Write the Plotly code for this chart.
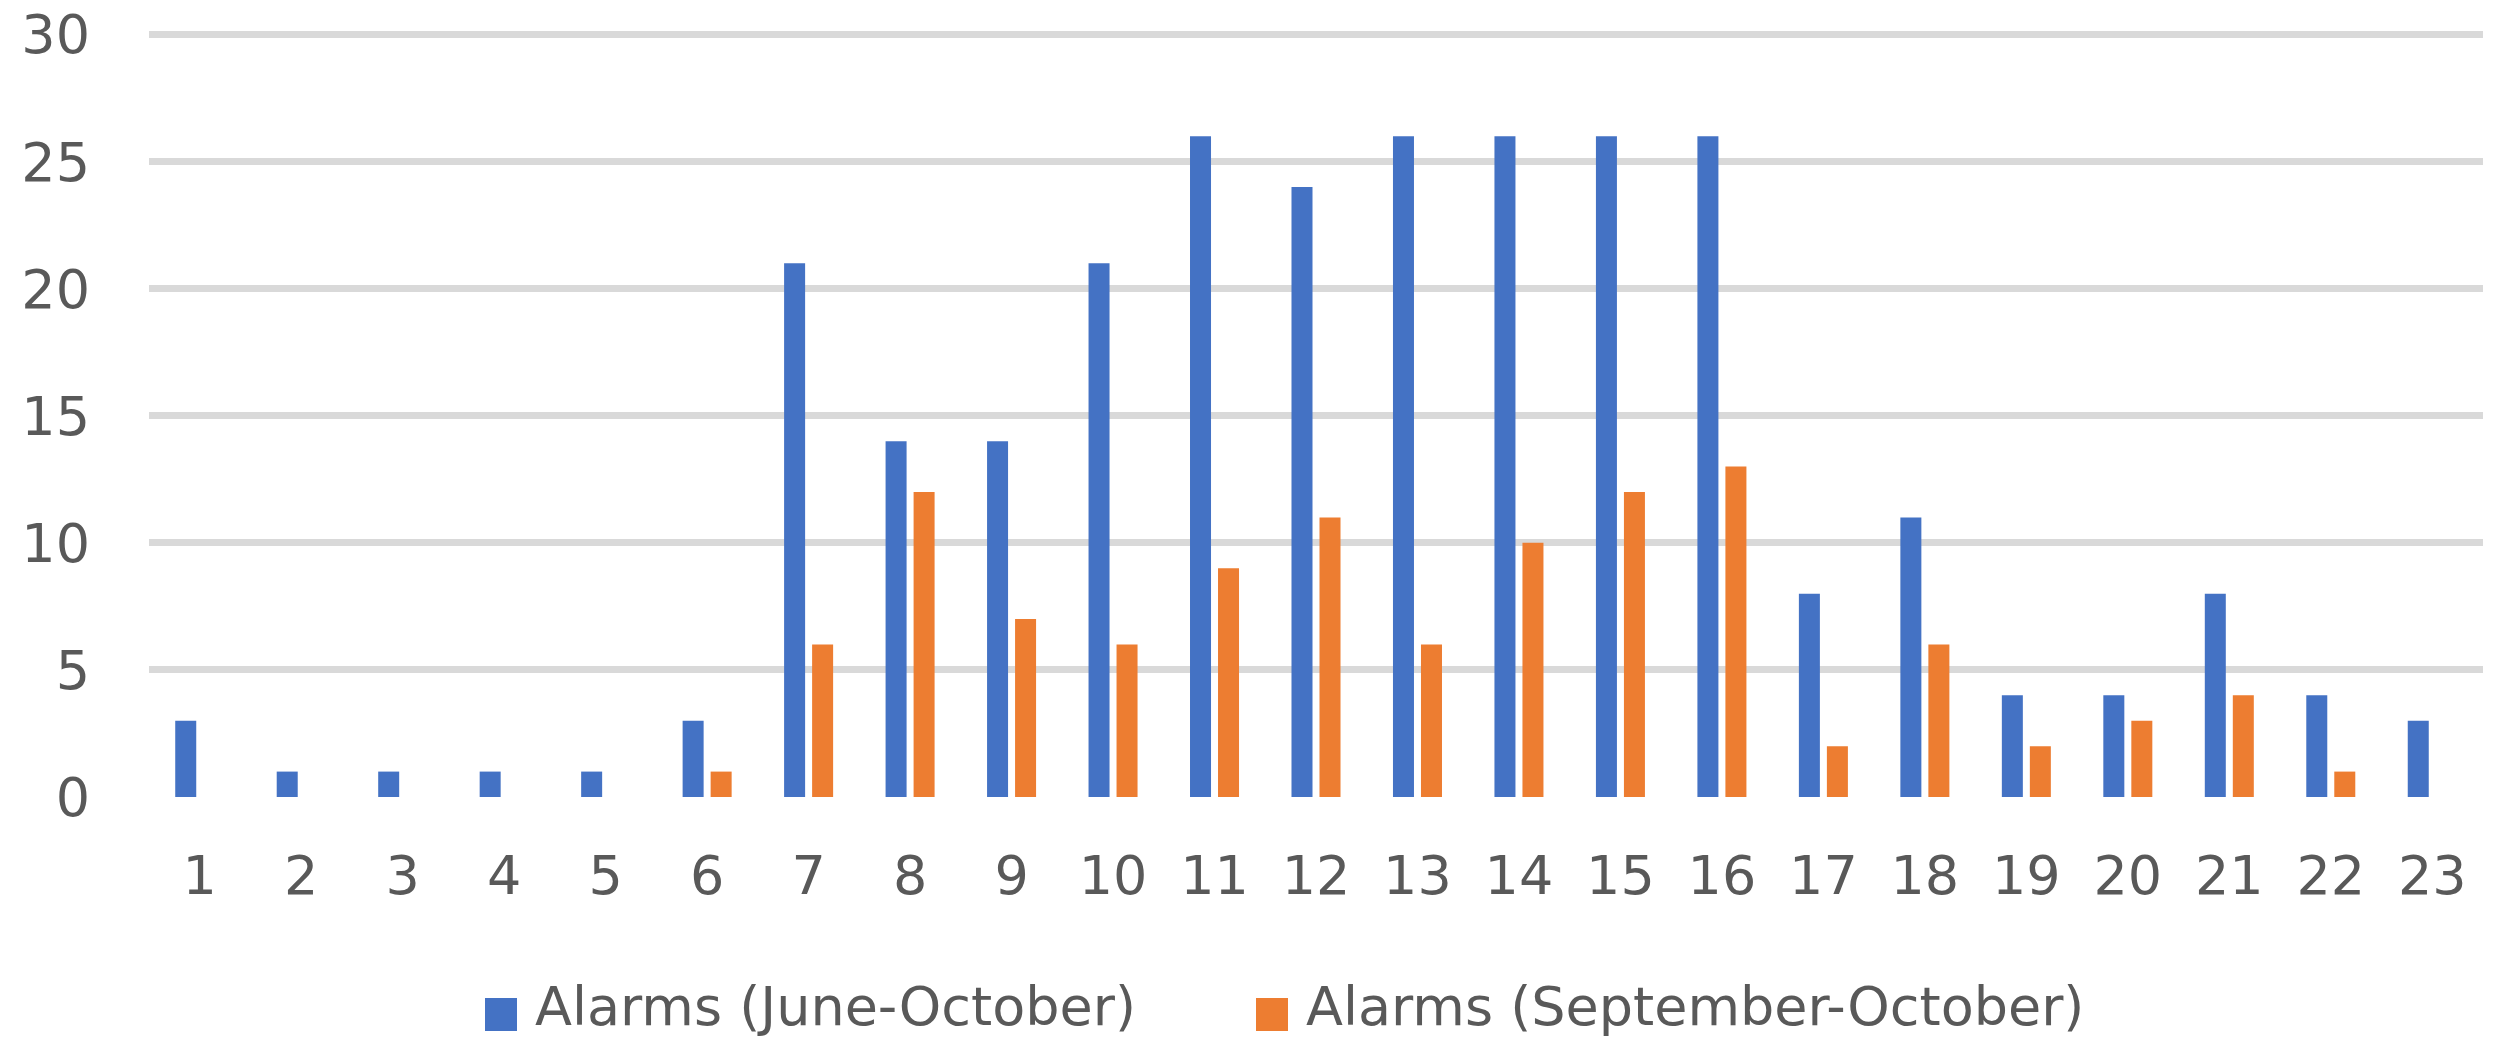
import plotly.graph_objects as go

categories = [str(i) for i in range(1, 24)]
june_october = [3, 1, 1, 1, 1, 3, 21, 14, 14, 21, 26, 24, 26, 26, 26, 26, 8, 11, 4, 4, 8, 4, 3]
september_october = [0, 0, 0, 0, 0, 1, 6, 12, 7, 6, 9, 11, 6, 10, 12, 13, 2, 6, 2, 3, 4, 1, 0]
series_names = ["Alarms (June-October)", "Alarms (September-October)"]
colors = ["#4472C4", "#ED7D31"]
y_ticks = [0, 5, 10, 15, 20, 25, 30]

FONT = "DejaVu Sans, Open Sans, sans-serif"
TXT = "#595959"
FS = 54

fig = go.Figure()
fig.add_trace(go.Bar(x=categories, y=june_october, name=series_names[0],
                     marker=dict(color=colors[0], line=dict(width=0)), showlegend=False))
fig.add_trace(go.Bar(x=categories, y=september_october, name=series_names[1],
                     marker=dict(color=colors[1], line=dict(width=0)), showlegend=False))

# plot area in pixels: x 149..2483, y 30..797 (range 0..30.18)
YMAX = 30.18
L, R, T, B = 149, 2483, 30, 797
W, H = R - L, B - T
def px(x):
    return (x - L) / W
def py(y):
    return (B - y) / H

shapes = []
annotations = []
legend_items = [(485, 533), (1256, 1304)]
for (sx, tx), name, col in zip(legend_items, series_names, colors):
    shapes.append(dict(type="rect", xref="paper", yref="paper",
                       x0=px(sx), x1=px(sx + 32), y0=py(1031), y1=py(998),
                       fillcolor=col, line=dict(width=0)))
    annotations.append(dict(text=name, xref="paper", yref="paper",
                            x=px(tx), y=py(1006), xanchor="left", yanchor="middle",
                            showarrow=False, font=dict(family=FONT, size=FS, color=TXT)))

fig.update_layout(
    width=2494, height=1041,
    margin=dict(l=L, r=2494 - R, t=T, b=1041 - B, pad=0, autoexpand=False),
    paper_bgcolor="white", plot_bgcolor="white",
    barmode="group", bargap=0.448, bargroupgap=0.25,
    font=dict(family=FONT, size=FS, color=TXT),
    shapes=shapes, annotations=annotations,
    xaxis=dict(type="category", showgrid=False, zeroline=False, showline=False,
               ticks="", tickfont=dict(family=FONT, size=FS, color=TXT),
               ticklabelstandoff=42, automargin=False),
    yaxis=dict(range=[0, YMAX], tickvals=y_ticks, showgrid=True, gridcolor="#D9D9D9",
               gridwidth=7, zeroline=False, showline=False, ticks="",
               tickfont=dict(family=FONT, size=FS, color=TXT),
               ticklabelstandoff=58, automargin=False),
)

fig.write_html("out.html", config={"displayModeBar": False},
               post_script="document.body.style.margin='0';document.body.style.overflow='hidden';")
